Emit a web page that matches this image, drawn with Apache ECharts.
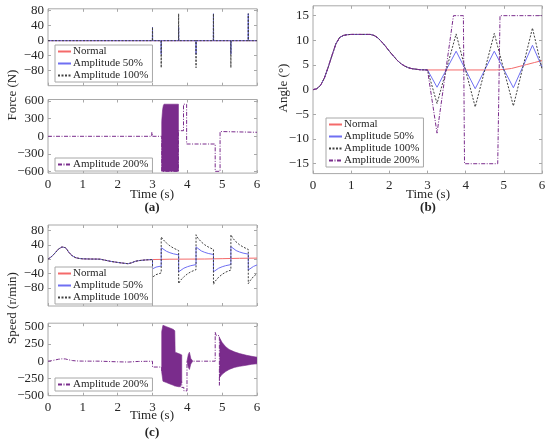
<!DOCTYPE html>
<html>
<head>
<meta charset="utf-8">
<script src="https://cdn.jsdelivr.net/npm/echarts@6/dist/echarts.min.js"></script>
<style>
  html, body { margin: 0; padding: 0; background: #fff; }
  #chart { width: 550px; height: 444px; }
</style>
</head>
<body>
<div id="chart"></div>
<script>
// ---- tick labels ----
var forceTicks = [-80, -40, 0, 40, 80];
var force200Ticks = [-600, -300, 0, 300, 600];
var angleTicks = [-15, -10, -5, 0, 5, 10, 15];
var speedTicks = [-80, -40, 0, 40, 80];
var speed200Ticks = [-500, -250, 0, 250, 500];

// ---- (a) force ----
var spikeTimes = [3.0, 3.25, 3.75, 4.25, 4.75, 5.25, 5.75];
var force50Spikes = [36, -36, 36, -36, 72, -36, 72];
var force100Spikes = [36, -72, 72, -72, 72, -72, 72];
var forceNormal = [[0, 0], [6, 0]];
var force200 = [[0, 0], [2.98, 0], [2.98, 69], [3.0, 69], [3.0, 0], [3.265, 0], [3.265, -595],
  [3.745, -595], [3.745, 95], [3.89, 95], [3.89, 545], [3.98, 545], [3.98, -131], [4.8, -131],
  [4.8, -595], [4.94, -595], [4.94, 81], [6.0, 68]];
var force200BandT = [3.265, 3.27, 3.29, 3.31, 3.33, 3.745];
var force200BandHi = [240, 300, 450, 520, 545, 545];
var force200BandLo = [-595, -595, -595, -595, -595, -595];

// ---- (b) angle ----
var angleBaseT = [0, 0.1, 0.2, 0.3, 0.4, 0.5, 0.6, 0.7, 0.8, 0.9, 1.0, 1.2, 1.5, 1.6, 1.7, 1.8, 1.9, 2.0, 2.1, 2.2, 2.3, 2.4, 2.5, 2.6, 2.8, 3.0];
var angleBase = [0, 0.2, 0.9, 2.4, 4.6, 7.0, 9.3, 10.6, 11.0, 11.15, 11.2, 11.2, 11.2, 11.0, 10.5, 9.7, 8.8, 7.8, 6.9, 6.0, 5.3, 4.8, 4.45, 4.25, 4.05, 4.0];
var angleNormalTail = [[4.8, 4.0], [5.0, 4.1], [5.2, 4.3], [5.4, 4.7], [5.6, 5.1], [5.8, 5.5], [6.0, 5.9]];
var angle50Tail = [[3.25, 0.5], [3.75, 7.8], [4.25, 0.2], [4.75, 7.8], [5.25, 0.4], [5.75, 9.0], [6.0, 4.6]];
var angle100Tail = [[3.25, -2.8], [3.75, 11.3], [4.25, -3.5], [4.75, 11.4], [5.25, -3.3], [5.75, 12.5], [6.0, 4.2]];
var angle200Tail = [[3.25, -8.8], [3.68, 15], [3.94, 15], [3.97, -15], [4.84, -15], [4.9, 15], [6.0, 15]];

// ---- (c) speed ----
var speedBaseT = [0, 0.1, 0.2, 0.3, 0.35, 0.4, 0.45, 0.5, 0.55, 0.6, 0.7, 0.8, 0.9, 1.0, 1.2, 1.4, 1.5, 1.6, 1.8, 2.0, 2.2, 2.3, 2.4, 2.5, 2.6, 2.8, 3.0];
var speedBase = [0, 7, 17, 28, 32, 34, 35, 32, 26, 19, 9, 4, 2, 1, 0.5, 0.3, 0, -2, -6, -9, -11.5, -12.5, -10, -6, -4, -2, -1];
var speedNormalTail = [[3.5, 0], [4.5, 0.5], [5.0, 1.5], [5.5, 2.5], [6.0, 3]];
var speed50Tail = [[3.0, -27], [3.05, -24], [3.1, -22], [3.15, -20], [3.25, -19],
  [3.25, 32], [3.3, 28], [3.4, 22], [3.5, 18], [3.6, 15], [3.75, 12],
  [3.75, -35], [3.8, -30], [3.9, -25], [4.0, -21], [4.1, -18], [4.25, -15],
  [4.25, 34], [4.3, 29], [4.4, 23], [4.5, 19], [4.6, 16], [4.75, 13],
  [4.75, -35], [4.8, -30], [4.9, -25], [5.0, -21], [5.1, -18], [5.25, -15],
  [5.25, 35], [5.3, 30], [5.4, 24], [5.5, 20], [5.6, 17], [5.75, 14],
  [5.75, -30], [5.8, -26], [5.9, -20], [6.0, -16]];
var speed100Tail = [[3.0, -50], [3.05, -46], [3.1, -43], [3.15, -41], [3.25, -38],
  [3.25, 62], [3.3, 55], [3.4, 45], [3.5, 37], [3.6, 31], [3.75, 24],
  [3.75, -68], [3.8, -59], [3.9, -49], [4.0, -41], [4.1, -35], [4.25, -29],
  [4.25, 68], [4.3, 59], [4.4, 48], [4.5, 40], [4.6, 34], [4.75, 27],
  [4.75, -70], [4.8, -61], [4.9, -50], [5.0, -42], [5.1, -36], [5.25, -30],
  [5.25, 68], [5.3, 59], [5.4, 48], [5.5, 40], [5.6, 34], [5.75, 27],
  [5.75, -68], [5.8, -60], [5.9, -48], [6.0, -40]];
var speed200Tail = [[3.0, -85], [3.265, -85], [3.265, -150], [3.84, -300], [3.84, -380], [3.9, -380],
  [3.9, -430], [3.99, -430], [3.99, 0], [4.8, 0], [4.8, 420], [4.83, 420], [4.83, 370], [4.92, 370],
  [4.92, -350], [4.935, -350], [4.935, 0], [6.0, 5]];
var speedBand1T = [3.265, 3.3, 3.4, 3.5, 3.6, 3.64, 3.65, 3.75, 3.8, 3.84];
var speedBand1Hi = [430, 520, 500, 480, 460, 440, 130, 110, 100, 90];
var speedBand1Lo = [-160, -290, -310, -330, -350, -360, -360, -370, -370, -300];
var speedBand2T = [3.99, 4.03, 4.06, 4.1, 4.15];
var speedBand2Hi = [0, 100, 130, 40, 5];
var speedBand2Lo = [0, -90, -120, -40, -5];
var speedBand3T = [4.935, 5.0, 5.1, 5.2, 5.35, 5.5, 5.7, 5.85, 6.0];
var speedBand3Hi = [330, 270, 210, 170, 135, 110, 85, 70, 58];
var speedBand3Lo = [-230, -190, -150, -120, -90, -75, -58, -45, -38];

var RED = '#f46a6a', BLUE = '#6f6ff2', DARK = '#404040', PURPLE = '#7a2c8c';
var DOT = [2, 1.5], DASHDOT = [4, 1.5, 1, 1.5];
var FONT = 'Liberation Serif', TXT = '#262626', BOX = '#a8a8a8';

function pairs(T, V) { return T.map(function (t, i) { return [t, V[i]]; }); }
function spikes(times, vals) {
  var d = [[0, 0]];
  times.forEach(function (t, i) { d.push([t - 0.004, 0], [t, vals[i]], [t + 0.004, 0]); });
  d.push([6, 0]);
  return d;
}
var angleB = pairs(angleBaseT, angleBase);
var speedB = pairs(speedBaseT, speedBase);

var grids = [
  { left: 48, top: 8.8, width: 209, height: 76.9 },
  { left: 48, top: 99.5, width: 209, height: 73.6 },
  { left: 313, top: 5.8, width: 229, height: 167.8 },
  { left: 48, top: 225, width: 209, height: 81 },
  { left: 48, top: 323.2, width: 209, height: 72.5 }
];
var yRanges = [[-120, 85], [-625, 625], [-17, 17], [-130, 95], [-500, 550]];
var yTicks = [forceTicks, force200Ticks, angleTicks, speedTicks, speed200Ticks];
var xLabels = [false, true, true, false, true];

var tickStyle = { inside: true, length: 3, lineStyle: { color: BOX, width: 1 } };
var xAxes = [], yAxes = [];
grids.forEach(function (g, gi) {
  [['bottom', xLabels[gi]], ['top', false]].forEach(function (p) {
    xAxes.push({
      type: 'value', gridIndex: gi, min: 0, max: 6, interval: 1, position: p[0],
      axisLine: { show: false, onZero: false }, axisTick: tickStyle, splitLine: { show: false },
      axisLabel: { show: p[1], margin: 5, color: TXT, fontFamily: FONT, fontSize: 13 }
    });
  });
  ['left', 'right'].forEach(function (pos) {
    yAxes.push({
      type: 'value', gridIndex: gi, min: yRanges[gi][0], max: yRanges[gi][1], position: pos,
      axisLine: { show: false, onZero: false }, splitLine: { show: false },
      axisTick: { inside: true, length: 3, lineStyle: { color: BOX, width: 1 }, customValues: yTicks[gi] },
      axisLabel: {
        show: pos === 'left', customValues: yTicks[gi], margin: 4, color: TXT, fontFamily: FONT, fontSize: 13,
        formatter: function (v) { return String(v).replace('-', '\u2212'); }
      }
    });
  });
});

function lineS(gi, name, data, color, dash) {
  return {
    type: 'line', name: name, xAxisIndex: 2 * gi, yAxisIndex: 2 * gi, data: data,
    symbol: 'none', showSymbol: false, clip: true,
    lineStyle: { color: color, width: 1, type: dash || 'solid' }, itemStyle: { color: color }
  };
}
function bandS(gi, T, hi, lo, color) {
  return {
    type: 'custom', xAxisIndex: 2 * gi, yAxisIndex: 2 * gi, silent: true, clip: true,
    data: T.map(function (t, i) { return [t, hi[i], lo[i]]; }),
    encode: { x: 0, y: [1, 2] },
    renderItem: function (params, api) {
      if (params.dataIndex !== 0) return;
      var pts = [];
      for (var i = 0; i < T.length; i++) pts.push(api.coord([T[i], hi[i]]));
      for (var j = T.length - 1; j >= 0; j--) pts.push(api.coord([T[j], lo[j]]));
      return { type: 'polygon', shape: { points: pts }, style: { fill: color, stroke: color, lineWidth: 0.6 } };
    }
  };
}

var series = [
  lineS(0, 'Normal', forceNormal, RED),
  lineS(0, 'Amplitude 50%', spikes(spikeTimes, force50Spikes), BLUE),
  lineS(0, 'Amplitude 100%', spikes(spikeTimes, force100Spikes), DARK, DOT),
  bandS(1, force200BandT, force200BandHi, force200BandLo, PURPLE),
  lineS(1, 'Amplitude 200%', force200, PURPLE, DASHDOT),
  lineS(2, 'Normal', angleB.concat(angleNormalTail), RED),
  lineS(2, 'Amplitude 50%', angleB.concat(angle50Tail), BLUE),
  lineS(2, 'Amplitude 100%', angleB.concat(angle100Tail), DARK, DOT),
  lineS(2, 'Amplitude 200%', angleB.concat(angle200Tail), PURPLE, DASHDOT),
  lineS(3, 'Normal', speedB.concat(speedNormalTail), RED),
  lineS(3, 'Amplitude 50%', speedB.concat(speed50Tail), BLUE),
  lineS(3, 'Amplitude 100%', speedB.concat(speed100Tail), DARK, DOT),
  bandS(4, speedBand1T, speedBand1Hi, speedBand1Lo, PURPLE),
  bandS(4, speedBand2T, speedBand2Hi, speedBand2Lo, PURPLE),
  bandS(4, speedBand3T, speedBand3Hi, speedBand3Lo, PURPLE),
  lineS(4, 'Amplitude 200%', speedB.concat(speed200Tail), PURPLE, DASHDOT)
];

function legendAt(left, top, names) {
  return {
    left: left, top: top, orient: 'vertical', data: names, selectedMode: false,
    itemWidth: 13, itemHeight: 8, itemGap: 1, padding: [1, 4, 1, 2],
    itemStyle: { opacity: 0, borderWidth: 0 },
    backgroundColor: '#fff', borderColor: BOX, borderWidth: 1, borderRadius: 0,
    textStyle: { fontFamily: FONT, fontSize: 11, color: TXT, padding: [0, 0, 0, -3] }
  };
}

function label(x, y, text, rot, bold) {
  return {
    type: 'text', x: x, y: y, rotation: rot || 0,
    style: {
      text: text, textAlign: 'center', textVerticalAlign: 'middle', fill: TXT,
      font: (bold ? 'bold ' : '') + '13px "Liberation Serif"'
    }
  };
}

var chart = echarts.init(document.getElementById('chart'));
chart.setOption({
  animation: false,
  backgroundColor: '#fff',
  grid: grids.map(function (g) {
    return Object.assign({ show: true, borderColor: BOX, borderWidth: 1, backgroundColor: '#fff', containLabel: false }, g);
  }),
  xAxis: xAxes,
  yAxis: yAxes,
  legend: [
    legendAt(55, 45, ['Normal', 'Amplitude 50%', 'Amplitude 100%']),
    legendAt(55, 158, ['Amplitude 200%']),
    legendAt(326, 118, ['Normal', 'Amplitude 50%', 'Amplitude 100%', 'Amplitude 200%']),
    legendAt(55, 267, ['Normal', 'Amplitude 50%', 'Amplitude 100%']),
    legendAt(55, 378, ['Amplitude 200%'])
  ],
  graphic: [
    label(13, 95, 'Force (N)', Math.PI / 2),
    label(284, 88, 'Angle (\u00b0)', Math.PI / 2),
    label(13, 308, 'Speed (r/min)', Math.PI / 2),
    label(152, 195, 'Time (s)'),
    label(428, 195, 'Time (s)'),
    label(152, 416, 'Time (s)'),
    label(152, 208, '(a)', 0, true),
    label(428, 208, '(b)', 0, true),
    label(152, 433, '(c)', 0, true)
  ],
  series: series
});
</script>
</body>
</html>
